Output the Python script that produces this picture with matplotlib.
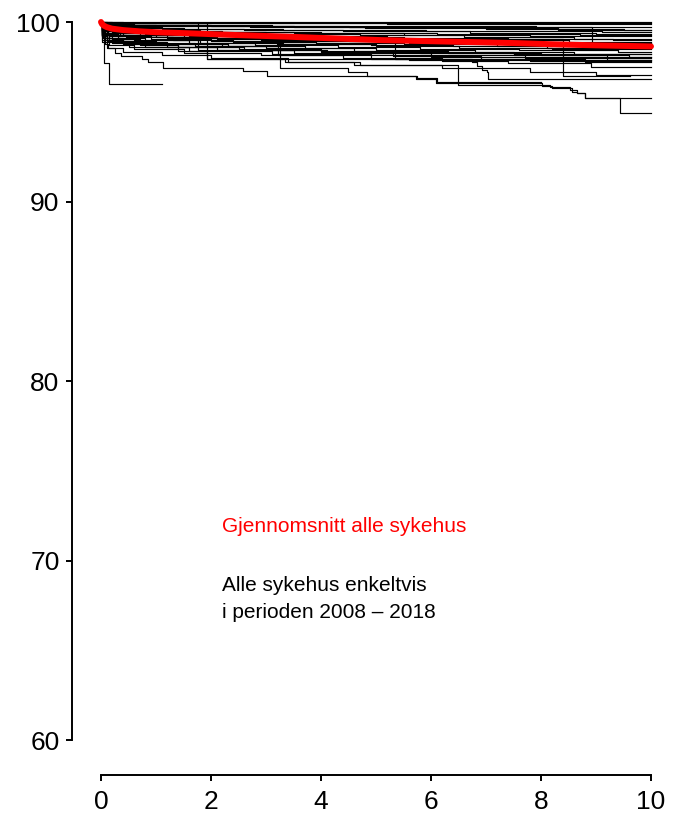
import matplotlib
matplotlib.use("Agg")
import matplotlib.pyplot as plt

plt.rcParams['font.family'] = ['Liberation Sans', 'DejaVu Sans']

# Survival (per cent) per hospital, step functions: value holds from each time onward
h01_t = [0, 10]
h01_s = [100, 100]
h02_t = [0, 0.4, 10]
h02_s = [100, 99.93, 99.93]
h03_t = [0, 0.05, 1.8, 5.2, 10]
h03_s = [100, 99.95, 99.92, 99.89, 99.89]
h04_t = [0, 0.03, 0.6, 3.1, 7.9, 10]
h04_s = [100, 99.9, 99.85, 99.8, 99.74, 99.74]
h05_t = [0, 0.02, 0.2, 1.0, 2.7, 4.8, 8.3, 10]
h05_s = [100, 99.85, 99.8, 99.75, 99.7, 99.65, 99.55, 99.55]
h06_t = [0, 0.02, 0.1, 0.5, 1.5, 3.3, 5.9, 9.1, 10]
h06_s = [100, 99.8, 99.72, 99.66, 99.6, 99.55, 99.5, 99.44, 99.44]
h07_t = [0, 0.02, 0.08, 0.3, 0.9, 2.2, 4.0, 6.1, 8.7, 10]
h07_s = [100, 99.75, 99.65, 99.58, 99.5, 99.44, 99.38, 99.33, 99.28, 99.28]
h08_t = [0, 0.01, 0.06, 0.25, 0.8, 1.9, 3.6, 5.2, 7.4, 9.3, 10]
h08_s = [100, 99.7, 99.55, 99.45, 99.35, 99.28, 99.2, 99.12, 99.05, 99.0, 99.0]
h09_t = [0, 0.02, 0.1, 0.4, 1.2, 2.9, 4.5, 6.6, 8.4, 10]
h09_s = [100, 99.6, 99.4, 99.25, 99.12, 99.02, 98.95, 98.9, 98.83, 98.83]
h10_t = [0, 0.02, 0.12, 0.45, 1.3, 2.4, 3.9, 5.5, 7.2, 8.9, 10]
h10_s = [100, 99.5, 99.3, 99.15, 99.0, 98.9, 98.82, 98.75, 98.68, 98.62, 98.62]
h11_t = [0, 0.01, 0.07, 0.3, 0.9, 2.0, 3.2, 4.9, 6.4, 8.1, 10]
h11_s = [100, 99.55, 99.35, 99.2, 99.05, 98.92, 98.8, 98.72, 98.64, 98.55, 98.55]
h12_t = [0, 0.03, 0.15, 0.6, 1.6, 2.8, 4.3, 5.8, 7.6, 9.4, 10]
h12_s = [100, 99.4, 99.2, 99.0, 98.85, 98.72, 98.62, 98.52, 98.44, 98.35, 98.35]
h13_t = [0, 0.02, 0.1, 0.35, 1.0, 2.3, 3.7, 5.0, 6.8, 8.6, 10]
h13_s = [100, 99.35, 99.1, 98.95, 98.8, 98.65, 98.53, 98.44, 98.35, 98.22, 98.22]
h14_t = [0, 0.02, 0.2, 0.7, 1.7, 3.0, 4.6, 6.3, 8.0, 9.6, 10]
h14_s = [100, 99.3, 99.05, 98.85, 98.68, 98.53, 98.4, 98.3, 98.16, 98.07, 98.07]
h15_t = [0, 0.02, 0.1, 0.5, 1.4, 2.6, 4.1, 6.0, 7.7, 9.2, 10]
h15_s = [100, 99.2, 98.95, 98.75, 98.58, 98.44, 98.3, 98.16, 98.0, 97.88, 97.88]
h16_t = [0, 0.03, 0.2, 0.8, 2.1, 3.5, 5.3, 6.9, 8.8, 10]
h16_s = [100, 99.1, 98.85, 98.62, 98.45, 98.3, 98.1, 97.95, 97.77, 97.77]
h17_t = [0, 0.02, 0.15, 0.6, 1.5, 2.9, 4.4, 6.2, 7.4, 8.9, 10]
h17_s = [100, 99.0, 98.7, 98.5, 98.3, 98.15, 97.98, 97.8, 97.7, 97.51, 97.51]
h18_t = [0, 0.03, 0.3, 1.2, 3.0, 5.5, 8.4, 9.62]
h18_s = [100, 99.6, 99.4, 99.25, 99.15, 99.05, 96.98, 96.98]
h19_t = [0, 0.02, 0.1, 0.4, 1.1, 2.0, 3.4, 4.7, 6.2, 7.8, 9.0, 10]
h19_s = [100, 98.9, 98.55, 98.35, 98.15, 97.98, 97.79, 97.6, 97.42, 97.23, 97.05, 97.05]
h20_t = [0, 0.03, 0.07, 0.12, 0.25, 0.36, 0.74, 0.86, 1.13, 2.58, 3.02, 5.73, 6.09,
         8.02, 8.2, 8.56, 8.65, 8.8, 10]
h20_s = [100, 99.3, 98.8, 98.55, 98.3, 98.08, 97.95, 97.75, 97.45, 97.27, 97.01, 96.81,
         96.62, 96.43, 96.31, 96.12, 96.03, 95.75, 95.75]
h21_t = [0, 0.02, 0.15, 0.7, 1.4, 1.92, 3.35, 4.6, 6.49, 8.16, 8.53, 8.65, 8.8, 9.44, 10]
h21_s = [100, 99.3, 98.95, 98.7, 98.37, 97.94, 97.75, 97.6, 96.49, 96.37, 96.2, 96.03,
         95.75, 94.93, 94.93]
h22_t = [0, 0.02, 0.1, 0.5, 1.6, 3.1, 4.9, 6.74, 6.83, 6.92, 7.01, 7.04, 10]
h22_s = [100, 99.2, 98.9, 98.6, 98.4, 98.2, 97.95, 97.75, 97.56, 97.33, 97.2, 96.85, 96.85]
h23_t = [0, 0.05, 1.0, 3.5, 8.92, 10]
h23_s = [100, 99.85, 99.8, 99.72, 98.85, 98.85]
h24_t = [0, 0.2, 1.92, 5.6, 10]
h24_s = [100, 99.93, 97.94, 97.88, 97.88]
h25_t = [0, 0.1, 1.76, 4.0, 7.5, 10]
h25_s = [100, 99.95, 98.45, 98.35, 98.2, 98.2]
h26_t = [0, 0.03, 0.2, 0.9, 3.22, 6.0, 10]
h26_s = [100, 99.6, 99.45, 99.3, 98.16, 98.07, 98.07]
h27_t = [0, 0.02, 0.3, 1.5, 3.0, 5.35, 7.8, 10]
h27_s = [100, 99.5, 99.3, 99.1, 98.95, 97.95, 97.85, 97.85]
h28_t = [0, 0.02, 0.3, 1.1, 2.6, 4.4, 6.7, 9.0, 10]
h28_s = [100, 99.8, 99.7, 99.62, 99.55, 99.48, 99.4, 99.35, 99.35]
h29_t = [0, 0.01, 0.05, 0.2, 0.7, 1.6, 3.0, 4.8, 6.9, 8.5, 10]
h29_s = [100, 99.65, 99.5, 99.38, 99.28, 99.2, 99.12, 99.05, 98.97, 98.9, 98.9]
h30_t = [0, 0.02, 0.1, 0.35, 1.0, 2.1, 3.8, 5.6, 7.3, 9.0, 10]
h30_s = [100, 99.55, 99.4, 99.28, 99.15, 99.05, 98.95, 98.85, 98.78, 98.7, 98.7]
h31_t = [0, 0.01, 0.08, 0.3, 0.8, 1.8, 3.3, 5.0, 6.5, 8.2, 10]
h31_s = [100, 99.45, 99.25, 99.1, 98.98, 98.85, 98.75, 98.65, 98.57, 98.48, 98.48]
h32_t = [0, 0.02, 0.1, 0.5, 1.5, 3.0, 4.7, 6.6, 8.6, 10]
h32_s = [100, 99.7, 99.6, 99.5, 99.42, 99.32, 99.25, 99.15, 99.08, 99.08]
h33_t = [0, 0.03, 0.6, 2.0, 4.5, 7.0, 9.5, 10]
h33_s = [100, 99.9, 99.85, 99.78, 99.7, 99.62, 99.57, 99.57]
h34_t = [0, 0.02, 0.15, 0.6, 1.8, 3.5, 5.5, 7.8, 10]
h34_s = [100, 99.75, 99.65, 99.55, 99.47, 99.4, 99.3, 99.2, 99.2]
h35_t = [0, 0.02, 0.1, 0.4, 1.2, 2.5, 4.0, 5.8, 7.5, 9.2, 10]
h35_s = [100, 99.3, 99.0, 98.8, 98.62, 98.5, 98.38, 98.27, 98.15, 98.0, 98.0]
h36_t = [0, 0.02, 0.1, 0.4, 1.2, 2.2, 3.25, 4.49, 4.83, 5.74, 6.1, 8.0]
h36_s = [100, 99.4, 99.1, 98.9, 98.75, 98.65, 97.42, 97.2, 97.01, 96.86, 96.64, 96.64]
h37_t = [0, 0.02, 0.05, 0.15, 1.11]
h37_s = [100, 99.2, 97.7, 96.53, 96.53]

# Average over all hospitals
mean_t = [0, 0.02, 0.05, 0.1, 0.2, 0.4, 0.7, 1.0, 1.6, 2.5, 3.4, 4.3, 5.1, 6.0, 6.9,
          7.6, 8.2, 9.0, 10]
mean_s = [100, 99.88, 99.8, 99.72, 99.63, 99.55, 99.48, 99.43, 99.37, 99.27, 99.18,
          99.08, 98.99, 98.93, 98.87, 98.82, 98.76, 98.7, 98.64]

x_ticks = [0, 2, 4, 6, 8, 10]
y_ticks = [60, 70, 80, 90, 100]

hospitals = [
    (h01_t, h01_s), (h02_t, h02_s), (h03_t, h03_s), (h04_t, h04_s), (h05_t, h05_s),
    (h06_t, h06_s), (h07_t, h07_s), (h08_t, h08_s), (h09_t, h09_s), (h10_t, h10_s),
    (h11_t, h11_s), (h12_t, h12_s), (h13_t, h13_s), (h14_t, h14_s), (h15_t, h15_s),
    (h16_t, h16_s), (h17_t, h17_s), (h18_t, h18_s), (h19_t, h19_s), (h20_t, h20_s),
    (h21_t, h21_s), (h22_t, h22_s), (h23_t, h23_s), (h24_t, h24_s), (h25_t, h25_s),
    (h26_t, h26_s), (h27_t, h27_s), (h28_t, h28_s), (h29_t, h29_s), (h30_t, h30_s),
    (h31_t, h31_s), (h32_t, h32_s), (h33_t, h33_s), (h34_t, h34_s), (h35_t, h35_s),
    (h36_t, h36_s), (h37_t, h37_s),
]

W, H = 683, 813
fig = plt.figure(figsize=(W / 100, H / 100), dpi=100)
# axes frame: left spine at x=72 px, bottom spine at y=775 px
ax = fig.add_axes([72 / W, 38 / H, (680 - 72) / W, (775 - 10) / H])
ax.set_xlim(-29 / 55, 579 / 55)
ax.set_ylim(100 - 753 / 17.95, 100 + 12 / 17.95)

for t, s in hospitals:
    ax.plot(t, s, drawstyle='steps-post', color='black', lw=0.85, zorder=2)

ax.plot(mean_t, mean_s, color='#ff0000', lw=4.3, solid_capstyle='round', zorder=3)

ax.text(2.2, 71.57, "Gjennomsnitt alle sykehus", color='#ff0000', fontsize=15,
        ha='left', va='baseline')
ax.text(2.2, 68.30, "Alle sykehus enkeltvis", color='black', fontsize=15,
        ha='left', va='baseline')
ax.text(2.2, 66.80, "i perioden 2008 \u2013 2018", color='black', fontsize=15,
        ha='left', va='baseline')

for side in ('top', 'right'):
    ax.spines[side].set_visible(False)
ax.spines['left'].set_bounds(60, 100)
ax.spines['bottom'].set_bounds(0, 10)
for side in ('left', 'bottom'):
    ax.spines[side].set_linewidth(1.4)

ax.set_xticks(x_ticks)
ax.set_xticklabels([str(v) for v in x_ticks])
ax.set_yticks(y_ticks)
ax.set_yticklabels([str(v) for v in y_ticks])
ax.tick_params(axis='both', direction='out', length=4, width=1.4, labelsize=19)
ax.tick_params(axis='y', pad=5)
ax.tick_params(axis='x', pad=7)

fig.savefig("out.png", dpi=100)
